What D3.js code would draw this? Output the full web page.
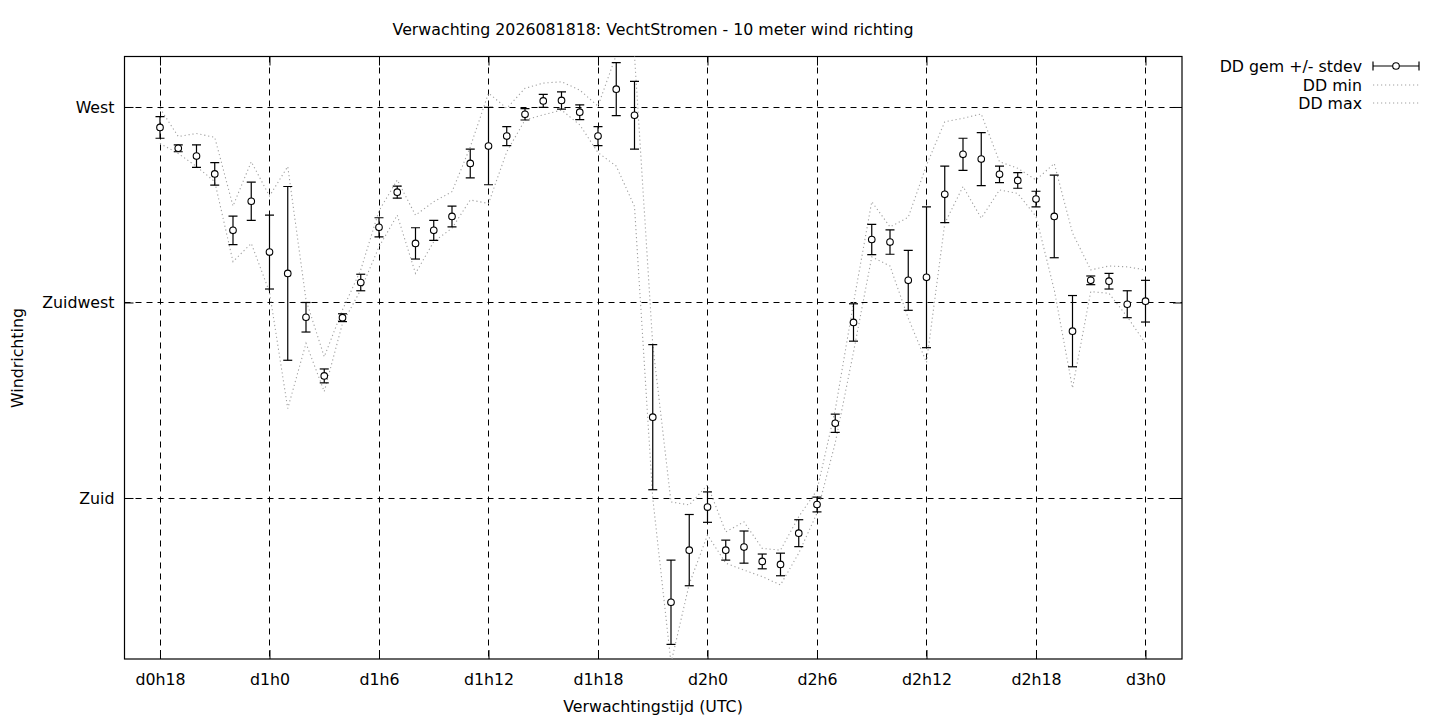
<!DOCTYPE html>
<html>
<head>
<meta charset="utf-8">
<script src="https://cdn.jsdelivr.net/npm/d3@7"></script>
<style>
  html, body { margin: 0; padding: 0; background: #fff; }
  svg { display: block; }
  text { font-family: "DejaVu Sans", sans-serif; font-size: 15.8px; fill: #000; }
</style>
</head>
<body>
<svg id="chart" width="1440" height="720"></svg>
<script>
// Forecast hours (x axis, hours after run start)
const hours = [18,19,20,21,22,23,24,25,26,27,28,29,30,31,32,33,34,35,36,37,38,39,40,41,42,43,44,45,
  46,47,48,49,50,51,52,53,54,55,56,57,58,59,60,61,62,63,64,65,66,67,68,69,70,71,72];

// DD gem (mean wind direction, degrees)
const ddMean = [265.3,260.5,258.7,254.6,241.6,248.3,236.6,231.7,221.6,208.1,221.5,229.6,242.3,250.4,238.6,241.6,
  244.8,257.0,261.0,263.3,268.3,271.4,271.5,268.8,263.3,274.1,268.1,198.6,156.0,168.0,177.9,168.0,168.7,165.4,
  164.7,171.9,178.5,197.2,220.4,239.5,238.9,230.1,230.8,249.9,259.1,258.0,254.5,253.1,248.8,244.8,218.4,230.1,
  229.9,224.6,225.3];

// stdev (degrees)
const ddStd = [2.5,0.8,2.6,2.6,3.3,4.4,8.5,20.0,3.4,1.6,0.9,1.9,2.2,1.4,3.6,2.3,2.4,3.3,8.9,2.2,1.3,1.5,2.0,1.7,
  2.2,6.1,7.8,16.7,9.7,8.2,3.5,2.3,3.7,1.7,2.6,3.1,1.7,2.1,4.3,3.5,2.8,6.9,16.2,6.5,3.7,6.1,1.9,1.8,1.8,9.5,8.2,
  1.0,1.8,3.1,4.8];

// DD min (degrees)
const ddMin = [261.6,259.3,256.3,252.8,234.4,238.6,227.4,200.6,215.6,204.5,220.2,227.9,237.8,245.1,231.7,239.0,
  242.1,248.6,247.8,259.7,267.0,268.2,269.3,265.9,259.5,256.4,247.1,180.0,142.0,160.2,171.5,165.0,163.4,161.9,
  160.0,167.3,176.5,192.7,213.6,235.5,233.4,221.4,211.2,243.2,251.7,244.4,250.9,250.1,244.8,227.9,205.3,227.5,
  227.1,221.7,215.6];

// DD max (degrees)
const ddMax = [269.7,263.2,263.9,263.0,247.2,257.4,249.5,256.3,225.6,212.5,223.3,232.5,246.1,253.2,245.1,248.2,
  250.5,260.8,273.2,269.7,274.3,275.5,275.8,273.9,270.2,282.0,282.0,215.3,179.1,178.4,183.0,172.2,174.5,168.4,
  168.0,175.7,181.8,200.3,224.9,248.2,242.4,244.6,256.6,266.6,267.4,268.4,257.4,255.9,253.2,257.0,241.0,232.5,
  233.4,233.2,232.5];

// Axis ticks
const xTickHours = [18,24,30,36,42,48,54,60,66,72];
const xTickLabels = ["d0h18","d1h0","d1h6","d1h12","d1h18","d2h0","d2h6","d2h12","d2h18","d3h0"];
const yTickValues = [270,225,180];
const yTickLabels = ["West","Zuidwest","Zuid"];

const titleText = "Verwachting 2026081818: VechtStromen - 10 meter wind richting";
const xTitle = "Verwachtingstijd (UTC)";
const yTitle = "Windrichting";
const legendLabels = ["DD gem +/- stdev","DD min","DD max"];

// ---- layout ----
const L = 124.5, R = 1182, T = 56.5, B = 659;
const FS = "15.8px";
const svg = d3.select("#chart");

const x = d3.scaleLinear().domain([16.055, 74.0]).range([L, R]);
const y = d3.scaleLinear().domain([142.94, 281.62]).range([B, T]);

// clip
svg.append("defs").append("clipPath").attr("id","plotclip")
  .append("rect").attr("x",L).attr("y",T).attr("width",R-L).attr("height",B-T);

// grid
const grid = svg.append("g").attr("stroke","#000").attr("stroke-width",1).attr("stroke-dasharray","6,5");
grid.selectAll("line.vx").data(xTickHours).join("line")
  .attr("x1",d=>Math.round(x(d))+0.5).attr("x2",d=>Math.round(x(d))+0.5)
  .attr("y1",T).attr("y2",B);
grid.selectAll("line.hy").data(yTickValues).join("line")
  .attr("y1",d=>Math.round(y(d))+0.5).attr("y2",d=>Math.round(y(d))+0.5)
  .attr("x1",L).attr("x2",R);

// axes via d3 axes (ticks drawn inward)
const xAxis = d3.axisBottom(x).tickValues(xTickHours).tickFormat((d,i)=>xTickLabels[i]).tickSize(-9).tickPadding(15);
const gx = svg.append("g").attr("transform",`translate(0,${B})`).call(xAxis);
const xAxisTop = d3.axisTop(x).tickValues(xTickHours).tickFormat("").tickSize(-9);
const gxt = svg.append("g").attr("transform",`translate(0,${T})`).call(xAxisTop);
const yAxis = d3.axisLeft(y).tickValues(yTickValues).tickFormat((d,i)=>yTickLabels[i]).tickSize(-9).tickPadding(10);
const gy = svg.append("g").attr("transform",`translate(${L},0)`).call(yAxis);
const yAxisR = d3.axisRight(y).tickValues(yTickValues).tickFormat("").tickSize(-9);
const gyr = svg.append("g").attr("transform",`translate(${R},0)`).call(yAxisR);
[gx,gxt,gy,gyr].forEach(g=>{
  g.select(".domain").remove();
  g.selectAll(".tick line").attr("stroke","#000");
  g.selectAll("text").style("font-family","DejaVu Sans, sans-serif").style("font-size",FS).attr("fill","#000");
});

// border
svg.append("rect").attr("x",L).attr("y",T).attr("width",R-L).attr("height",B-T)
  .attr("fill","none").attr("stroke","#000").attr("stroke-width",1.2);

// min / max dotted lines
const plotG = svg.append("g").attr("clip-path","url(#plotclip)");
const lineMin = d3.line().x((d,i)=>x(hours[i])).y(d=>y(d));
[ddMin, ddMax].forEach(arr=>{
  plotG.append("path").datum(arr).attr("d",lineMin)
    .attr("fill","none").attr("stroke","#a0a0a0").attr("stroke-width",1.1)
    .attr("stroke-dasharray","1.2,2.8");
});

// error bars
const eb = plotG.append("g").attr("stroke","#000").attr("stroke-width",1.2);
const capW = 4.5;
hours.forEach((h,i)=>{
  const cx = x(h), y1 = y(ddMean[i]+ddStd[i]), y2 = y(ddMean[i]-ddStd[i]);
  eb.append("line").attr("x1",cx).attr("x2",cx).attr("y1",y1).attr("y2",y2);
  eb.append("line").attr("x1",cx-capW).attr("x2",cx+capW).attr("y1",y1).attr("y2",y1);
  eb.append("line").attr("x1",cx-capW).attr("x2",cx+capW).attr("y1",y2).attr("y2",y2);
});
plotG.append("g").selectAll("circle").data(ddMean).join("circle")
  .attr("cx",(d,i)=>x(hours[i])).attr("cy",d=>y(d)).attr("r",3.3)
  .attr("fill","#fff").attr("stroke","#000").attr("stroke-width",1.1);

// titles
svg.append("text").attr("x",653).attr("y",35).attr("text-anchor","middle").text(titleText);
svg.append("text").attr("x",653).attr("y",712).attr("text-anchor","middle").text(xTitle);
svg.append("text").attr("transform","translate(23,358) rotate(-90)").attr("text-anchor","middle").text(yTitle);

// legend
const lg = svg.append("g");
const lgY = [66, 85, 103];
legendLabels.forEach((t,i)=>{
  lg.append("text").attr("x",1362).attr("y",lgY[i]+5.5).attr("text-anchor","end").text(t);
});
const lx1 = 1373, lx2 = 1419;
lg.append("line").attr("x1",lx1).attr("x2",lx2).attr("y1",lgY[0]).attr("y2",lgY[0]).attr("stroke","#000").attr("stroke-width",1.2);
lg.append("line").attr("x1",lx1).attr("x2",lx1).attr("y1",lgY[0]-4.5).attr("y2",lgY[0]+4.5).attr("stroke","#000").attr("stroke-width",1.2);
lg.append("line").attr("x1",lx2).attr("x2",lx2).attr("y1",lgY[0]-4.5).attr("y2",lgY[0]+4.5).attr("stroke","#000").attr("stroke-width",1.2);
lg.append("circle").attr("cx",(lx1+lx2)/2).attr("cy",lgY[0]).attr("r",3.3).attr("fill","#fff").attr("stroke","#000").attr("stroke-width",1.1);
[1,2].forEach(i=>{
  lg.append("line").attr("x1",lx1).attr("x2",lx2).attr("y1",lgY[i]).attr("y2",lgY[i])
    .attr("stroke","#a0a0a0").attr("stroke-width",1.1).attr("stroke-dasharray","1.2,2.8");
});
</script>
</body>
</html>
